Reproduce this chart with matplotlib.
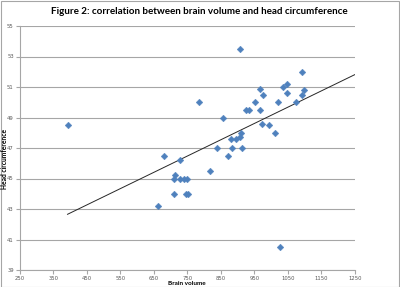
import matplotlib
matplotlib.use("Agg")
import matplotlib.pyplot as plt
from matplotlib.patches import Rectangle

# Data
brain_volume = [392, 785, 907, 1092, 1049, 1035, 967, 975, 1047, 1098, 1092,
                953, 1021, 1074, 924, 933, 968, 857, 972, 995, 1012, 911,
                906, 880, 894, 838, 882, 914, 680, 728, 713, 709, 728, 741,
                748, 709, 746, 753, 663, 818, 872, 1026]
head_circumference = [48.5, 50.0, 53.5, 52.0, 51.2, 51.0, 50.9, 50.5, 50.6, 50.8, 50.5,
                      50.0, 50.0, 50.0, 49.5, 49.5, 49.5, 49.0, 48.6, 48.5, 48.0, 48.0,
                      47.7, 47.6, 47.6, 47.0, 47.0, 47.0, 46.5, 46.2, 45.2, 45.0, 45.0, 45.0,
                      45.0, 44.0, 44.0, 44.0, 43.2, 45.5, 46.5, 40.5]

# Linear trendline (start at min x, forecast to 1250)
trend_x = [392, 1250]
trend_slope = 0.01067
trend_intercept = 38.47

x_ticks = [250, 350, 450, 550, 650, 750, 850, 950, 1050, 1150, 1250]
y_ticks = [39, 41, 43, 45, 47, 49, 51, 53, 55]

title = "Figure 2: correlation between brain volume and head circumference"
x_label = "Brain volume"
y_label = "Head circumference"

W, H = 400, 287
fig = plt.figure(figsize=(W / 100, H / 100), dpi=100)
fig.patch.set_facecolor("white")

left, right, top, bottom = 20, 354.7, 26, 270
ax = fig.add_axes([left / W, 1 - bottom / H, (right - left) / W, (bottom - top) / H])

grid_col = "#A6A6A6"
ax.set_xlim(250, 1250)
ax.set_ylim(39, 55)
ax.set_xticks(x_ticks)
ax.set_yticks(y_ticks)
ax.set_xticklabels([str(v) for v in x_ticks])
ax.set_yticklabels([str(v) for v in y_ticks])
ax.yaxis.grid(True, color=grid_col, linewidth=0.8)
ax.set_axisbelow(True)
for s in ["top", "right"]:
    ax.spines[s].set_visible(False)
for s in ["left", "bottom"]:
    ax.spines[s].set_color(grid_col)
    ax.spines[s].set_linewidth(0.8)
ax.tick_params(axis="both", colors=grid_col, labelcolor="#595959",
               labelsize=3.8, length=3, width=0.8, direction="out", pad=1.5)

ax.plot(brain_volume, head_circumference, linestyle="none", marker="D",
        markersize=3.4, color="#4F81BD", markeredgewidth=0.3,
        markeredgecolor="#4F81BD", zorder=3)

tx = trend_x
ty = [trend_intercept + trend_slope * v for v in tx]
ax.plot(tx, ty, color="#262626", linewidth=0.7, zorder=2)

fig.text(199 / W, 1 - 12 / H, title, ha="center", va="center",
         fontsize=7.15, fontweight="bold", family="Lato", color="#000000")
fig.text(187 / W, 1 - 283.5 / H, x_label, ha="center", va="center",
         fontsize=4.6, fontweight="bold", family="Lato")
fig.text(5 / W, 1 - 159 / H, y_label, ha="center", va="center", rotation=90,
         fontsize=4.8, fontweight="bold", family="Lato")

fig.patches.append(Rectangle((0.5 / W, 0.5 / H), (W - 1.5) / W, (H - 1.5) / H,
                             transform=fig.transFigure, fill=False,
                             edgecolor="#A6A6A6", linewidth=0.8))

fig.savefig("out.png", dpi=100)
